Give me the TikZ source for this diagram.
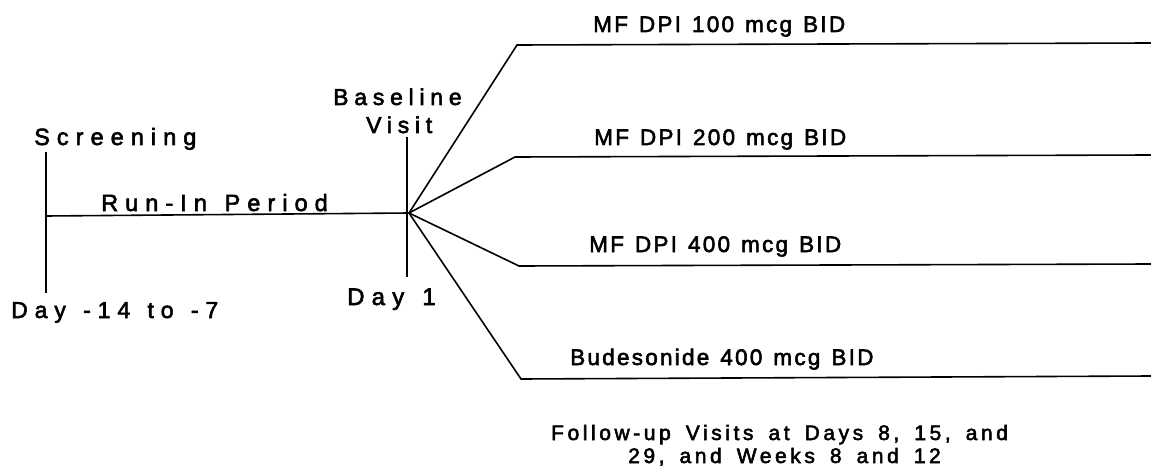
\documentclass[tikz,border=0pt]{standalone}
\usepackage{fontspec}
\newfontfamily\wideFont[LetterSpace=30,WordSpace=2.0,FakeBold=2.5]{Liberation Sans}
\newfontfamily\dayFont[LetterSpace=30,WordSpace=1.3,FakeBold=2.5]{Liberation Sans}
\newfontfamily\midFont[LetterSpace=25,FakeBold=2.5]{Liberation Sans}
\newfontfamily\armFont[LetterSpace=10,WordSpace=1.3,FakeBold=2.5]{Liberation Sans}
\newfontfamily\fuFont[LetterSpace=17,WordSpace=1.6,FakeBold=2.5]{Liberation Sans}
\begin{document}
\begin{tikzpicture}[x=1pt,y=-1pt,
  lab/.style={inner sep=0pt,anchor=base west},
  widelab/.style={lab,font=\wideFont\fontsize{23.5}{25}\selectfont},
  daylab/.style={lab,font=\dayFont\fontsize{23}{25}\selectfont},
  onelab/.style={lab,font=\wideFont\fontsize{24}{26}\selectfont},
  visitlab/.style={lab,font=\midFont\fontsize{23}{25}\selectfont},
  armlab/.style={lab,font=\armFont\fontsize{22.5}{24}\selectfont},
  fulab/.style={lab,font=\fuFont\fontsize{21}{23}\selectfont},
  ln/.style={line width=1.6pt,line join=miter}]
\useasboundingbox (0,0) rectangle (1151,476);
% timeline markers
\coordinate (scrTop) at (46,152);
\coordinate (scrBot) at (46,293);
\coordinate (baseTop) at (407,137);
\coordinate (baseBot) at (407,277);
\coordinate (runStart) at (46,216);
\coordinate (hub) at (409,213);
% branch corners and ends
\coordinate (b1) at (517,45);
\coordinate (e1) at (1151,43);
\coordinate (b2) at (515,157);
\coordinate (e2) at (1151,155);
\coordinate (b3) at (519,266);
\coordinate (e3) at (1151,264);
\coordinate (b4) at (521,379);
\coordinate (e4) at (1151,376);
\draw[ln] (scrTop) -- (scrBot);
\draw[ln] (baseTop) -- (baseBot);
\draw[ln] (runStart) -- (hub);
\draw[ln] (hub) -- (b1) -- (e1);
\draw[ln] (hub) -- (b2) -- (e2);
\draw[ln] (hub) -- (b3) -- (e3);
\draw[ln] (hub) -- (b4) -- (e4);
% labels
\node[widelab] (scr) at (34,145) {Screening};
\node[widelab] (run) at (101,211) {Run-In Period};
\node[daylab] (d14) at (11,318) {Day -14 to -7};
\node[visitlab] (bl1) at (333,105) {Baseline};
\node[visitlab] (bl2) at (366,133) {Visit};
\node[onelab] (d1) at (347,305) {Day 1};
\node[armlab] (t1) at (593,32) {MF DPI 100 mcg BID};
\node[armlab] (t2) at (594,145) {MF DPI 200 mcg BID};
\node[armlab] (t3) at (589,252) {MF DPI 400 mcg BID};
\node[armlab] (t4) at (570,365) {Budesonide 400 mcg BID};
\node[fulab] (fu1) at (551,440) {Follow-up Visits at Days 8, 15, and};
\node[fulab] (fu2) at (628,463) {29, and Weeks 8 and 12};
\end{tikzpicture}
\end{document}
